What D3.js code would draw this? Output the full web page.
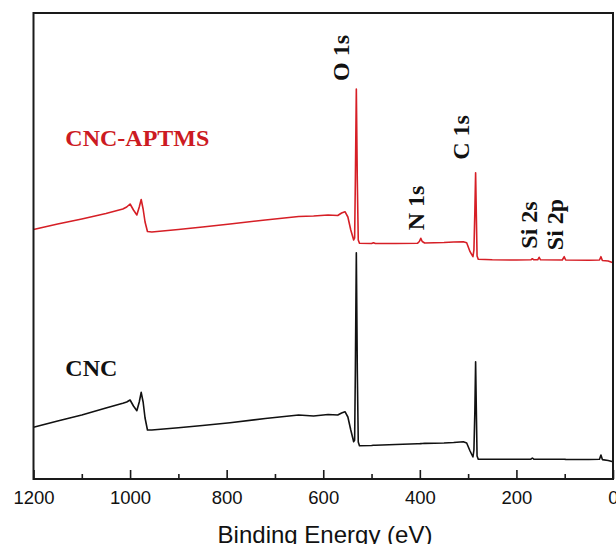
<!DOCTYPE html>
<html>
<head>
<meta charset="utf-8">
<script src="https://cdn.jsdelivr.net/npm/d3@7"></script>
<style>
  html, body { margin: 0; padding: 0; background: #fff; }
  svg { display: block; }
</style>
</head>
<body>
<div id="chart"></div>
<script>
// Binding energy grid (eV)
const energy = [1200,1150,1100,1050,1015,1007,1000,993,986,981,977,973,969,964,955,900,850,793,720,651,620,590,570,562,555,549,543,537,535,533.5,531.5,529.5,527.5,525,500,496,492,450,405,401,398,395,390,350,330,310,303,296,290,288,286,284.5,283,281.5,279,250,200,170,167,164,156,153,150,105,101,98,50,28,25,22,10,0];

// CNC-APTMS intensity (a.u.)
const aptmsIntensity = [249.5,255,260,265.5,270,272,275,269,264,272,279.5,270,257,247.5,247,249.5,252,255,259,262.5,263,264,263.5,266,267.3,262,249,239,241,299,390,299,239,235.7,235.5,236.3,235.5,235.5,235.7,237.5,240.7,237.5,236,236.5,237,237.3,236.3,227.3,222.3,229,269,306.3,264,223,219.7,219.2,219,219.2,220.3,219.2,219.2,221.7,219.2,219,222.3,219,218.8,219,222.3,218.5,218,216.3];

// CNC intensity (a.u.)
const cncIntensity = [51.7,58,64,71,75.7,77,79,73,68.3,77,86.7,77,61,49,49,51.3,53.5,56.3,60.5,64,63,64.5,64,66,67.3,62,49,37.3,39,109,226.3,109,37,33.3,33.5,33.7,33.7,34.5,35.2,35.3,35.4,35.5,35.6,36,36.5,37.3,36,28,22,29,69,117.3,69,23,19.7,19.7,19.7,19.8,21,19.8,19.7,19.7,19.7,19.7,19.7,19.6,19.5,19.7,24,19.4,18.5,17.3];

const majorTicks = [1200,1000,800,600,400,200,0];
const minorTicks = [1100,900,700,500,300,100];

const peakNames = ["O 1s","C 1s","N 1s","Si 2s","Si 2p"];
const peakEnergy = [546, 298, 391, 157, 103];
const peakLabelIntensity = [421, 341.5, 271, 254, 254.5];

const seriesNames = ["CNC-APTMS","CNC"];
const seriesLabelIntensity = [333, 103];

const W = 616, H = 544;
const m = {left: 33.5, right: 3, top: 13, bottom: 65};

const svg = d3.select("#chart").append("svg").attr("width", W).attr("height", H);

const x = d3.scaleLinear().domain([1200, 0]).range([m.left, W - m.right]);
const y = d3.scaleLinear().domain([0, 466]).range([H - m.bottom, m.top]);

const redCol = "#d61f26";

const line = d3.line().x(d => x(d[0])).y(d => y(d[1]));

svg.append("path")
  .datum(energy.map((e, i) => [e, cncIntensity[i]]))
  .attr("d", line).attr("fill", "none").attr("stroke", "#111").attr("stroke-width", 1.6)
  .attr("stroke-linejoin", "round");

svg.append("path")
  .datum(energy.map((e, i) => [e, aptmsIntensity[i]]))
  .attr("d", line).attr("fill", "none").attr("stroke", redCol).attr("stroke-width", 1.6)
  .attr("stroke-linejoin", "round");

// frame
svg.append("rect")
  .attr("x", x(1200)).attr("y", y(466))
  .attr("width", x(0) - x(1200)).attr("height", y(0) - y(466))
  .attr("fill", "none").attr("stroke", "#1a1a1a").attr("stroke-width", 2);

// axes
const gMajor = svg.append("g").attr("transform", `translate(0,${y(0)})`)
  .call(d3.axisBottom(x).tickValues(majorTicks).tickSize(-9).tickSizeOuter(0).tickPadding(12).tickFormat(d3.format("d")));
gMajor.select(".domain").remove();
gMajor.selectAll(".tick line").attr("stroke", "#1a1a1a").attr("stroke-width", 1.6);
gMajor.selectAll(".tick text").attr("font-family", "'Liberation Sans', Arial, sans-serif").attr("font-size", 18.5).attr("fill", "#111");

const gMinor = svg.append("g").attr("transform", `translate(0,${y(0)})`)
  .call(d3.axisBottom(x).tickValues(minorTicks).tickSize(-5).tickSizeOuter(0).tickFormat(""));
gMinor.select(".domain").remove();
gMinor.selectAll(".tick line").attr("stroke", "#1a1a1a").attr("stroke-width", 1.6);

svg.append("text")
  .attr("x", 325).attr("y", 543)
  .attr("text-anchor", "middle")
  .attr("font-family", "'Liberation Sans', Arial, sans-serif")
  .attr("font-size", 24).attr("fill", "#111")
  .text("Binding Energy (eV)");

// peak labels
peakNames.forEach((name, i) => {
  svg.append("text")
    .attr("transform", `translate(${x(peakEnergy[i])},${y(peakLabelIntensity[i])}) rotate(-90)`)
    .attr("text-anchor", "middle")
    .attr("font-family", "'Liberation Serif', 'Times New Roman', serif")
    .attr("font-weight", "bold").attr("font-size", 24).attr("fill", "#111")
    .text(name);
});

// series labels
seriesNames.forEach((name, i) => {
  svg.append("text")
    .attr("x", x(1134)).attr("y", y(seriesLabelIntensity[i]))
    .attr("font-family", "'Liberation Serif', 'Times New Roman', serif")
    .attr("font-weight", "bold").attr("font-size", 24)
    .attr("fill", i === 0 ? "#cc1a22" : "#111")
    .text(name);
});
</script>
</body>
</html>
